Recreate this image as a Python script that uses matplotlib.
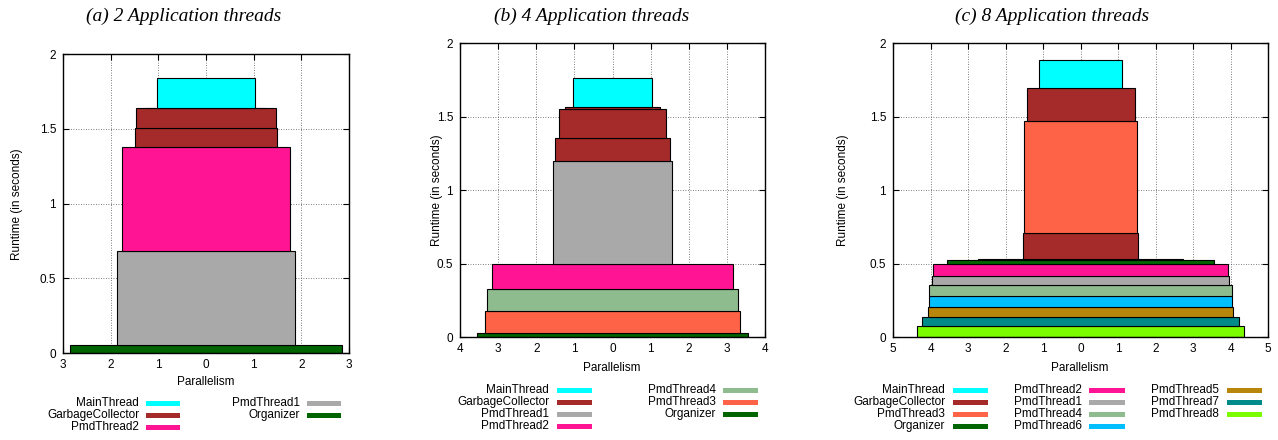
import matplotlib
matplotlib.use("Agg")
import matplotlib.pyplot as plt
from matplotlib.patches import Rectangle
from matplotlib.ticker import FuncFormatter, MultipleLocator

# ─── data: one box per (thread, phase), stacked in time ──────────────
# ends = runtime at the top of each box (s), par = parallelism (half width)
names_a = ['Organizer', 'PmdThread1', 'PmdThread2', 'GarbageCollector',
           'GarbageCollector', 'GarbageCollector', 'MainThread']
ends_a = [0.056, 0.679, 1.377, 1.504, 1.636, 1.642, 1.839]
par_a = [2.86, 1.86, 1.77, 1.48, 1.46, 1.25, 1.03]

names_b = ['Organizer', 'PmdThread3', 'PmdThread4', 'PmdThread2', 'PmdThread1',
           'GarbageCollector', 'GarbageCollector', 'GarbageCollector', 'MainThread']
ends_b = [0.027, 0.179, 0.329, 0.494, 1.197, 1.356, 1.553, 1.565, 1.762]
par_b = [3.55, 3.34, 3.28, 3.16, 1.56, 1.50, 1.40, 1.25, 1.04]

names_c = ['PmdThread8', 'PmdThread7', 'PmdThread5', 'PmdThread6', 'PmdThread4',
           'PmdThread1', 'PmdThread2', 'Organizer', 'Organizer', 'GarbageCollector',
           'PmdThread3', 'GarbageCollector', 'MainThread']
ends_c = [0.075, 0.138, 0.206, 0.281, 0.351, 0.414, 0.498, 0.525, 0.530,
          0.710, 1.466, 1.697, 1.882]
par_c = [4.37, 4.23, 4.07, 4.04, 4.04, 3.97, 3.94, 3.57, 2.74, 1.54, 1.50, 1.44, 1.11]

legend_a = ['MainThread', 'GarbageCollector', 'PmdThread2', 'PmdThread1', 'Organizer']
legend_b = ['MainThread', 'GarbageCollector', 'PmdThread1', 'PmdThread2',
            'PmdThread4', 'PmdThread3', 'Organizer']
legend_c = ['MainThread', 'GarbageCollector', 'PmdThread3', 'Organizer',
            'PmdThread2', 'PmdThread1', 'PmdThread4', 'PmdThread6',
            'PmdThread5', 'PmdThread7', 'PmdThread8']

titles = ['(a) 2 Application threads', '(b) 4 Application threads',
          '(c) 8 Application threads']

colors = {
    'MainThread': '#00FFFF',
    'GarbageCollector': '#A52A2A',
    'PmdThread1': '#A9A9A9',
    'PmdThread2': '#FF1493',
    'PmdThread3': '#FF6347',
    'PmdThread4': '#8FBC8F',
    'PmdThread5': '#B8860B',
    'PmdThread6': '#00BFFF',
    'PmdThread7': '#008B8B',
    'PmdThread8': '#7CFC00',
    'Organizer': '#006400',
}

# ─── layout (pixels) ─────────────────────────────────────────────────
W, H = 1278, 440
plt.rcParams['font.family'] = ['Liberation Sans', 'DejaVu Sans']
plt.rcParams['font.size'] = 8.5

fig = plt.figure(figsize=(W / 100, H / 100), dpi=100)

def px_axes(left, top, right, bottom):
    return fig.add_axes([left / W, 1 - bottom / H, (right - left) / W, (bottom - top) / H])

panels = [
    # box, xmax, names, ends, par, legend, legend columns (text right, swatch x0, x1), rows y
    dict(box=(63, 54, 349, 353), xmax=3, names=names_a, ends=ends_a, par=par_a,
         legend=legend_a, nrow=3, cols=[(139, 146, 180), (300, 307, 341)],
         row0=403, ylab=(17, 204), xlab=(206, 382), title=184),
    dict(box=(460, 43, 765, 337), xmax=4, names=names_b, ends=ends_b, par=par_b,
         legend=legend_b, nrow=4, cols=[(549, 557, 592), (716, 723, 758)],
         row0=390, ylab=(437, 190), xlab=(612, 368), title=592),
    dict(box=(893, 43, 1268, 337), xmax=5, names=names_c, ends=ends_c, par=par_c,
         legend=legend_c, nrow=4, cols=[(945, 953, 988), (1082, 1089, 1125), (1219, 1227, 1262)],
         row0=390, ylab=(843, 190), xlab=(1080, 368), title=1052),
]

absfmt = FuncFormatter(lambda v, p: f'{abs(v):g}')

for pnl, title in zip(panels, titles):
    ax = px_axes(*pnl['box'])
    starts = [0] + pnl['ends'][:-1]
    for name, y0, y1, p in zip(pnl['names'], starts, pnl['ends'], pnl['par']):
        ax.bar(0, y1 - y0, width=2 * p, bottom=y0, color=colors[name],
               edgecolor='black', linewidth=0.8, zorder=2)

    ax.set_xlim(-pnl['xmax'], pnl['xmax'])
    ax.set_ylim(0, 2)
    ax.xaxis.set_major_locator(MultipleLocator(1))
    ax.yaxis.set_major_locator(MultipleLocator(0.5))
    ax.xaxis.set_major_formatter(absfmt)
    ax.yaxis.set_major_formatter(FuncFormatter(lambda v, p: f'{v:g}'))
    ax.tick_params(direction='in', top=True, right=True, length=4, width=0.8)
    ax.tick_params(axis='x', pad=4)
    ax.tick_params(axis='y', pad=5)
    ax.grid(True, color='#555555', linestyle=(0, (1, 2)), linewidth=0.6)
    ax.set_axisbelow(True)
    for s in ax.spines.values():
        s.set_linewidth(1.0)

    # labels and title
    x, y = pnl['ylab']
    fig.text(x / W, 1 - y / H, 'Runtime (in seconds)', rotation=90, ha='center', va='center')
    x, y = pnl['xlab']
    fig.text(x / W, 1 - y / H, 'Parallelism', ha='center', va='center')
    fig.text(pnl['title'] / W, 1 - 20.5 / H, title, ha='center', va='baseline',
             family='Liberation Serif', style='italic', fontsize=14)

    # gnuplot-style key: right-justified text, sample on the right
    for i, name in enumerate(pnl['legend']):
        col, row = divmod(i, pnl['nrow'])
        tx, sx0, sx1 = pnl['cols'][col]
        yy = pnl['row0'] + 12 * row
        fig.text(tx / W, 1 - yy / H, name, ha='right', va='center')
        fig.add_artist(Rectangle((sx0 / W, 1 - (yy + 2.5) / H), (sx1 - sx0) / W, 5 / H,
                                 transform=fig.transFigure, color=colors[name], lw=0))

fig.savefig('out.png', dpi=100)
plt.close(fig)
